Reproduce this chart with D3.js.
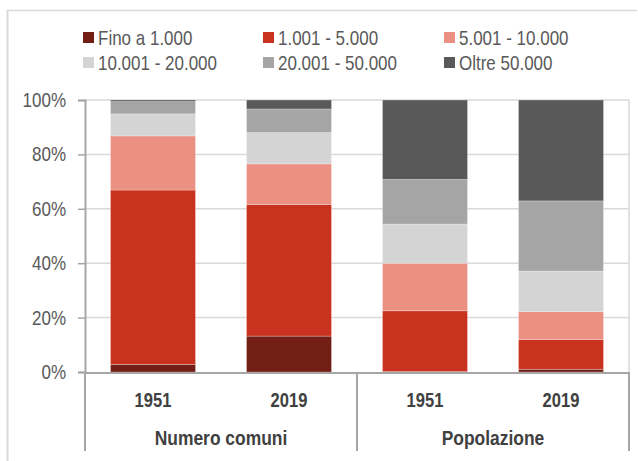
<!DOCTYPE html>
<html><head><meta charset="utf-8">
<script src="https://cdn.jsdelivr.net/npm/d3@7"></script>
<style>
html,body{margin:0;padding:0;background:#fff;}
svg{display:block;font-family:"Liberation Sans",Arial,sans-serif;}
</style></head>
<body><svg id="c" width="638" height="461"></svg>
<script>
const groups = ["Numero comuni","Numero comuni","Popolazione","Popolazione"];
const years = ["1951","2019","1951","2019"];
const seriesNames = ["Fino a 1.000","1.001 - 5.000","5.001 - 10.000","10.001 - 20.000","20.001 - 50.000","Oltre 50.000"];
const seriesColors = ["#731E14","#C9321F","#EC9083","#D4D4D4","#A5A5A5","#595959"];
// values (%) per series, one per bar
const fino1000   = [2.8, 13.2, 0.2, 1.0];
const da1a5      = [64.1, 48.4, 22.3, 10.9];
const da5a10     = [19.9, 14.9, 17.5, 10.3];
const da10a20    = [8.1, 11.5, 14.4, 14.9];
const da20a50    = [4.5, 8.7, 16.4, 25.8];
const oltre50    = [0.6, 3.3, 29.2, 37.1];
const yTicks = [0,20,40,60,80,100];

const seriesVals = [fino1000, da1a5, da5a10, da10a20, da20a50, oltre50];
const keys = years.map((y,i)=>i);
const rows = keys.map(i=>{const r={key:i}; seriesNames.forEach((s,j)=>r[s]=seriesVals[j][i]); return r;});

// condensed look (Arial Narrow–like) via horizontal scaling
const SX = 0.85;

const svg = d3.select("#c");
const L=85, R=629, T=100, B=372;
const x = d3.scaleBand().domain(keys).range([L,R]).paddingInner(0.375).paddingOuter(0.1875);
const y = d3.scaleLinear().domain([0,100]).range([B,T]);

// outer frame
svg.append("line").attr("x1",7).attr("x2",637).attr("y1",10.5).attr("y2",10.5).attr("stroke","#D9D9D9").attr("stroke-width",1.5);
svg.append("line").attr("x1",7.5).attr("x2",7.5).attr("y1",10).attr("y2",461).attr("stroke","#D9D9D9").attr("stroke-width",2);

// gridlines
svg.append("g").selectAll("line").data(yTicks.filter(d=>d>0)).join("line")
  .attr("x1",L).attr("x2",R).attr("y1",d=>y(d)).attr("y2",d=>y(d))
  .attr("stroke","#D9D9D9").attr("stroke-width",1.5);
svg.append("line").attr("x1",R).attr("x2",R).attr("y1",T).attr("y2",B).attr("stroke","#D9D9D9").attr("stroke-width",1.5);

// bars
const stack = d3.stack().keys(seriesNames)(rows);
svg.append("g").selectAll("g").data(stack).join("g")
  .attr("fill",(d,i)=>seriesColors[i])
  .selectAll("rect").data(d=>d).join("rect")
  .attr("x",d=>x(d.data.key)).attr("width",x.bandwidth())
  .attr("y",d=>y(d[1])).attr("height",d=>Math.max(0,y(d[0])-y(d[1])))
  .attr("stroke","#fff").attr("stroke-opacity",0.35).attr("stroke-width",0.75);

// y axis
const ya = svg.append("g").attr("transform",`translate(${L},0)`)
  .call(d3.axisLeft(y).tickValues(yTicks).tickFormat(d=>d+"%").tickSize(7).tickPadding(12));
ya.select(".domain").attr("stroke","#A6A6A6").attr("stroke-width",2);
ya.selectAll(".tick line").attr("stroke","#A6A6A6").attr("stroke-width",1.5);
ya.selectAll(".tick text").attr("fill","#595959").attr("font-size",20).attr("font-family",null)
  .attr("x",0).attr("transform",`translate(-19,0) scale(${SX},1)`);

// x axis
svg.append("line").attr("x1",L).attr("x2",R).attr("y1",B+1).attr("y2",B+1).attr("stroke","#A6A6A6").attr("stroke-width",2);
const groupNames = Array.from(new Set(groups));
const sepX = [L, (x(1)+x.bandwidth()+x(2))/2, R];
svg.append("g").selectAll("line").data(sepX).join("line")
  .attr("x1",d=>d).attr("x2",d=>d).attr("y1",B).attr("y2",451)
  .attr("stroke","#A6A6A6").attr("stroke-width",2);
svg.append("g").selectAll("text").data(keys).join("text")
  .attr("transform",d=>`translate(${x(d)+x.bandwidth()/2},406.5) scale(${SX*0.95},1)`)
  .attr("text-anchor","middle").attr("font-size",20.5).attr("font-weight","bold").attr("fill","#404040")
  .text(d=>years[d]);
svg.append("g").selectAll("text").data(groupNames).join("text")
  .attr("transform",(g,i)=>`translate(${(sepX[i]+sepX[i+1])/2},445) scale(${SX},1)`)
  .attr("text-anchor","middle").attr("font-size",20.5).attr("font-weight","bold").attr("fill","#404040")
  .text(d=>d);

// legend
const legX=[83,263,444], legY=[32,57];
const lg = svg.append("g").selectAll("g").data(seriesNames).join("g")
  .attr("transform",(d,i)=>`translate(${legX[i%3]},${legY[Math.floor(i/3)]})`);
lg.append("rect").attr("width",11).attr("height",11).attr("fill",(d,i)=>seriesColors[i]);
lg.append("text").attr("transform",`translate(15,13) scale(${SX},1)`).attr("font-size",20).attr("fill","#595959").text(d=>d);
</script></body></html>
